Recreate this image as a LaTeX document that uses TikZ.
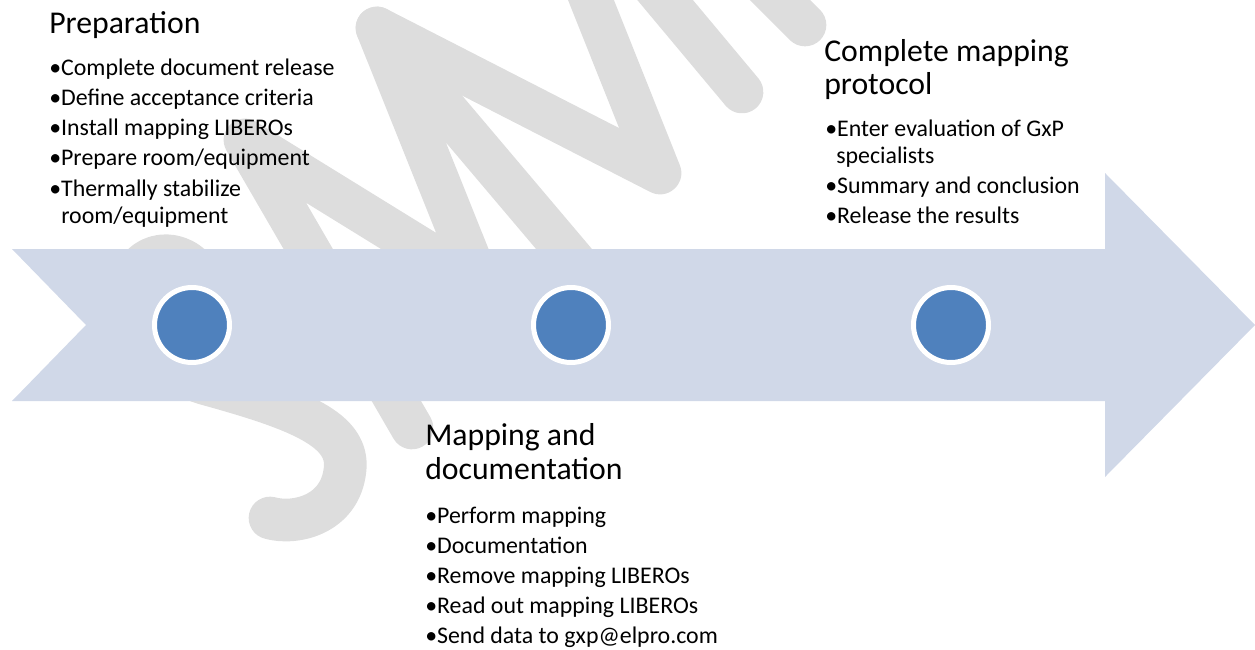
\documentclass[tikz,border=0pt]{standalone}
\usepackage{fontspec}
\setmainfont{Carlito}
\definecolor{arrowfill}{RGB}{208,216,232}
\definecolor{dotblue}{RGB}{79,129,189}
\definecolor{wmgray}{RGB}{221,221,221}
\begin{document}
\begin{tikzpicture}[x=0.75pt,y=-0.75pt,
  wm/.style={draw=wmgray,line width=32pt,line cap=round,line join=round},
  head/.style={anchor=base west,inner sep=0pt,font=\fontsize{23.8}{28}\selectfont},
  item/.style={anchor=base west,inner sep=0pt,font=\fontsize{17.9}{21}\selectfont},
  dot/.style={circle,fill=dotblue,draw=white,line width=3.75pt,minimum size=56.25pt,inner sep=0pt}]
\useasboundingbox (0,0) rectangle (1255,649);
% watermark strokes
\draw[wm] (205,290) .. controls (195,250) and (150,245) .. (135,275)
  .. controls (120,310) and (150,370) .. (210,385)
  .. controls (300,410) and (350,430) .. (345,470)
  .. controls (340,515) and (295,525) .. (270,518);
\draw[wm] (412,428) -- (245,140) -- (480,285) -- (377,28) -- (575,262);
\draw[wm] (377,28) -- (660,173) -- (575,-40);
\draw[wm] (640,-30) -- (742,92);
\draw[wm] (740,-40) -- (805,25);
% arrow
\fill[arrowfill] (12,249) -- (1105,249) -- (1105,173) -- (1255,325) -- (1105,477)
  -- (1105,401) -- (12,401) -- (86,325) -- cycle;
% dots
\node[dot] (c1) at (192,325) {};
\node[dot] (c2) at (571,325) {};
\node[dot] (c3) at (951,325) {};
% Preparation
\node[head] (h1) at (49,34) {Preparation};
\node[item] (p1) at (49,76) {•Complete document release};
\node[item] (p2) at (49,106) {•Define acceptance criteria};
\node[item] (p3) at (49,136) {•Install mapping LIBEROs};
\node[item] (p4) at (49,166) {•Prepare room/equipment};
\node[item] (p5) at (49,196) {•Thermally stabilize};
\node[item] (p5b) at (61,223) {room/equipment};
% Mapping and documentation
\node[head] (h2a) at (425,445) {Mapping and};
\node[head] (h2b) at (425,479) {documentation};
\node[item] (m1) at (425,523) {•Perform mapping};
\node[item] (m2) at (425,553) {•Documentation};
\node[item] (m3) at (425,583) {•Remove mapping LIBEROs};
\node[item] (m4) at (425,613) {•Read out mapping LIBEROs};
\node[item] (m5) at (425,643) {•Send data to gxp@elpro.com};
% Complete mapping protocol
\node[head] (h3a) at (824,62) {Complete mapping};
\node[head] (h3b) at (824,95) {protocol};
\node[item] (q1) at (825,137) {•Enter evaluation of GxP};
\node[item] (q1b) at (836,163) {specialists};
\node[item] (q2) at (825,193) {•Summary and conclusion};
\node[item] (q3) at (825,223) {•Release the results};
\end{tikzpicture}
\end{document}
